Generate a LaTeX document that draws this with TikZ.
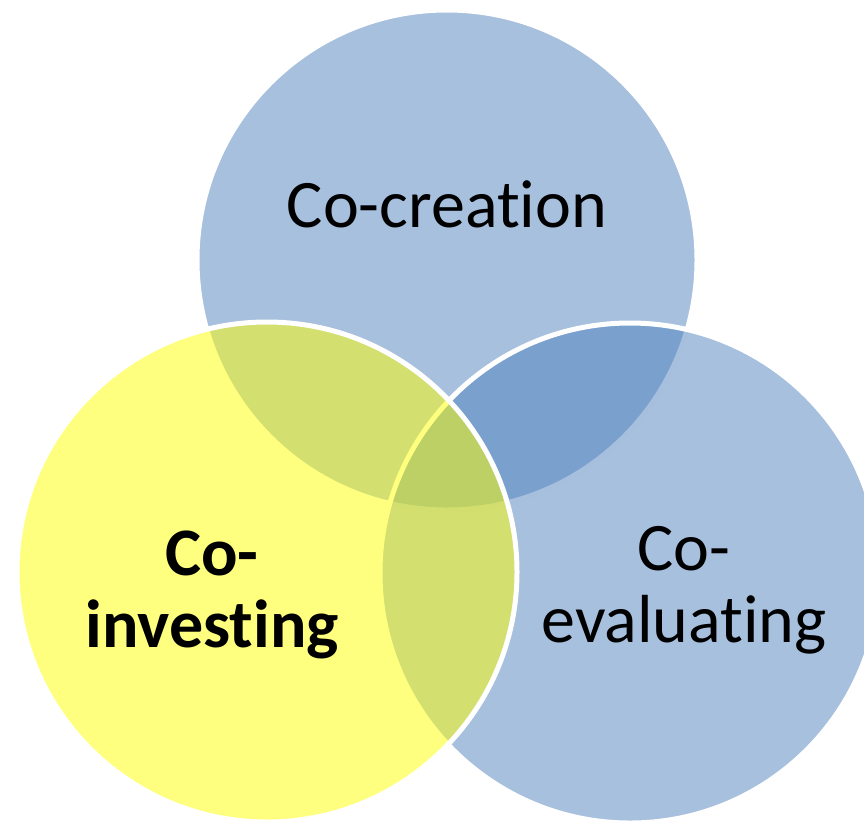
\documentclass[tikz,border=0pt]{standalone}
\usepackage{fontspec}
\setmainfont[Ligatures={NoCommon,NoContextual,NoRequired}]{Carlito}
\begin{document}
\begin{tikzpicture}[x=1pt,y=-1pt,
  disc/.style={circle, draw=white, line width=5pt, minimum size=500pt,
    inner sep=0pt, outer sep=0pt, fill opacity=0.5, draw opacity=1},
  label/.style={text=black, align=center, inner sep=0pt,
    font=\fontsize{68}{72}\selectfont}]
  \definecolor{discblue}{HTML}{4F81BD}
  \definecolor{discyellow}{HTML}{FFFF00}
  \useasboundingbox (0,0) rectangle (864,820);
  \clip (0,0) rectangle (864,820);
  % three overlapping circles, later ones lying over earlier ones
  \node[disc, fill=discblue]   (creation)   at (447,260) {};
  \node[disc, fill=discblue]   (evaluating) at (630,573) {};
  \node[disc, fill=discyellow] (investing)  at (267,572) {};
  % captions (base anchor sits on the last line's baseline)
  \node[label, anchor=base] (tcreation) at (447,227) {Co-creation};
  \node[label, anchor=base, font=\fontsize{68}{72}\selectfont\bfseries]
    (tinvesting) at (212,647) {Co-\\investing};
  \node[label, anchor=base] (tevaluating) at (684,642) {Co-\\evaluating};
\end{tikzpicture}
\end{document}
